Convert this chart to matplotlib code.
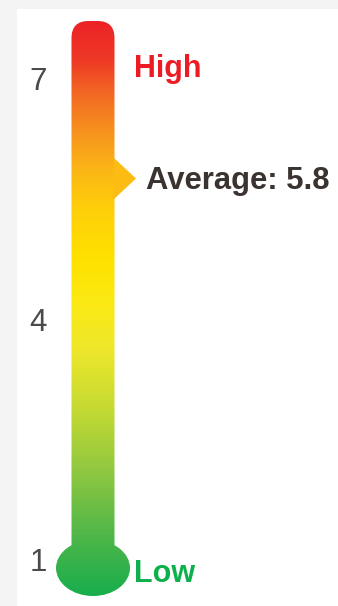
import matplotlib
matplotlib.use("Agg")
import matplotlib.pyplot as plt
import numpy as np
from matplotlib.colors import LinearSegmentedColormap
from matplotlib.patches import FancyBboxPatch, Ellipse, Polygon, Rectangle

plt.rcParams['font.family'] = ['Liberation Sans', 'DejaVu Sans']

# Scale values
tick_values = [1, 4, 7]
tick_labels = ["1", "4", "7"]
average_value = 5.8
average_label = "Average: 5.8"
high_label = "High"
low_label = "Low"

# Gauge colour ramp (top -> bottom)
ramp_positions = [0.0, 0.068, 0.12, 0.19, 0.259, 0.328, 0.416, 0.485, 0.572, 0.676, 0.78, 0.885, 1.0]
ramp_colors = ["#ec2227", "#ee3a25", "#f26524", "#f6921e", "#fbb715", "#fecf0a", "#ffe200",
               "#fbe912", "#eee72b", "#c4da33", "#92c840", "#55b848", "#18ad4d"]
cmap = LinearSegmentedColormap.from_list("gauge", list(zip(ramp_positions, ramp_colors)))

W, H = 338, 606
fig = plt.figure(figsize=(W / 100, H / 100), dpi=100)
fig.patch.set_facecolor("#f4f4f4")
ax = fig.add_axes([0, 0, 1, 1])
ax.set_axis_off()

PX_PER_UNIT = 80.1           # vertical pixels per scale unit
ONE_PX = 563                 # pixel row of the value 1
ax.set_xlim(0, W)
ax.set_ylim(1 - (H - ONE_PX) / PX_PER_UNIT, 1 + ONE_PX / PX_PER_UNIT)
u = 1 / PX_PER_UNIT          # one pixel in value units

# white card
ax.add_patch(Rectangle((17, 0.0), W, 1 + (ONE_PX - 9) / PX_PER_UNIT,
                       facecolor="white", edgecolor="none", zorder=0))

# thermometer geometry
tube_x0, tube_w = 71.5, 43
scale_top = 1 + (ONE_PX - 21) * u
bulb_center = 1 - 5 * u
bulb_w, bulb_h = 74, 56 * u
bulb_cx = tube_x0 + tube_w / 2

tube = FancyBboxPatch((tube_x0, bulb_center), tube_w, scale_top - bulb_center,
                      boxstyle="round,pad=0,rounding_size=17",
                      mutation_aspect=u, facecolor="none", edgecolor="none")
bulb = Ellipse((bulb_cx, bulb_center), bulb_w, bulb_h,
               facecolor="none", edgecolor="none")
ax.add_patch(tube)
ax.add_patch(bulb)

grad_bottom = bulb_center - bulb_h / 2
grad = np.linspace(0, 1, 512)[:, None]
for clip in (tube, bulb):
    im = ax.imshow(grad, cmap=cmap, extent=(bulb_cx - bulb_w / 2, bulb_cx + bulb_w / 2,
                                            grad_bottom, scale_top),
                   aspect="auto", origin="upper", interpolation="bilinear", zorder=2)
    im.set_clip_path(clip)

# average pointer
frac = (scale_top - average_value) / (scale_top - grad_bottom)
arrow_col = cmap(frac)
half = 21 * u
ax.add_patch(Polygon([(tube_x0 + tube_w - 1, average_value + half),
                      (136, average_value),
                      (tube_x0 + tube_w - 1, average_value - half)],
                     closed=True, facecolor=arrow_col, edgecolor="none", zorder=3))
ax.text(146, average_value - 10.5 * u, average_label, fontsize=22.3, fontweight="bold",
        color="#3a3330", ha="left", va="baseline", zorder=4)

# scale labels
for v, lab in zip(tick_values, tick_labels):
    ax.text(38, v, lab, fontsize=22.5, color="#4a4a4a", ha="center", va="center",
            fontweight="normal", zorder=4)

ax.text(134, scale_top - 56 * u, high_label, fontsize=22, fontweight="bold",
        color="#ed1c24", ha="left", va="baseline", zorder=4)
ax.text(134, bulb_center - 14 * u, low_label, fontsize=22, fontweight="bold",
        color="#0db04b", ha="left", va="baseline", zorder=4)

fig.savefig("out.png", dpi=100, facecolor=fig.get_facecolor())
